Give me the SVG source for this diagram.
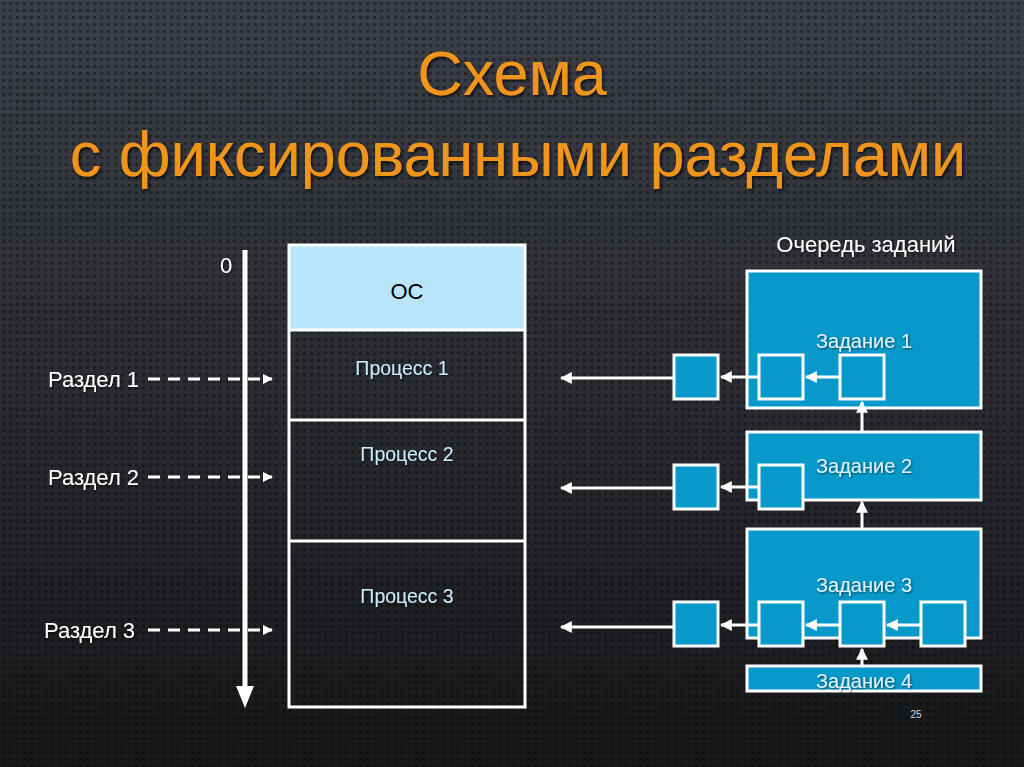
<svg xmlns="http://www.w3.org/2000/svg" width="1024" height="767" viewBox="0 0 1024 767">
<defs>
<linearGradient id="bg" x1="0" y1="0" x2="0" y2="1">
<stop offset="0" stop-color="#3b3f47"/>
<stop offset="0.5" stop-color="#2a2c31"/>
<stop offset="1" stop-color="#161719"/>
</linearGradient>
<pattern id="dots" width="7" height="7" patternUnits="userSpaceOnUse">
<circle cx="3.5" cy="3.5" r="1.8" fill="#000" fill-opacity="0.35"/>
</pattern>
<marker id="ah" viewBox="0 0 10 10" refX="9" refY="5" markerWidth="4" markerHeight="4" orient="auto" markerUnits="strokeWidth">
<path d="M0,0 L10,5 L0,10 z" fill="#fff"/>
</marker>
<marker id="ahs" viewBox="0 0 10 10" refX="9" refY="5" markerWidth="3.5" markerHeight="3.5" orient="auto" markerUnits="strokeWidth">
<path d="M0,0 L10,5 L0,10 z" fill="#fff"/>
</marker>
<filter id="sh" x="-10%" y="-10%" width="120%" height="130%">
<feDropShadow dx="1.5" dy="2" stdDeviation="1.5" flood-color="#000" flood-opacity="0.7"/>
</filter>
<filter id="tsh" x="-10%" y="-20%" width="120%" height="140%">
<feDropShadow dx="1" dy="1" stdDeviation="0.8" flood-color="#000" flood-opacity="0.6"/>
</filter>
</defs>
<style>
.title{font-family:"Liberation Sans",Arial,sans-serif;font-size:63px;fill:#f0951e;text-anchor:middle}
.lbl{font-family:"Liberation Sans",Arial,sans-serif;font-size:22px;fill:#fff}
.proc{font-family:"Liberation Sans",Arial,sans-serif;font-size:19.5px;fill:#c9ecfb;text-anchor:middle}
.job{font-family:"Liberation Sans",Arial,sans-serif;font-size:20px;fill:#dff3fc;text-anchor:middle}
.mem{fill:none;stroke:#fff;stroke-width:3}
.box{fill:#0899cb;stroke:#fff;stroke-width:3}
.sq{fill:#0899cb;stroke:#fff;stroke-width:3}
.ln{stroke:#fff;stroke-width:3;fill:none}
.dash{stroke:#fff;stroke-width:3;stroke-dasharray:12 8;fill:none}
</style>
<rect width="1024" height="767" fill="url(#bg)"/>
<rect width="1024" height="767" fill="url(#dots)"/>

<g id="title" filter="url(#sh)">
<text class="title" x="512" y="95">Схема</text>
<text class="title" x="518" y="176">с фиксированными разделами</text>
</g>

<g id="axis">
<line x1="245" y1="250" x2="245" y2="688" stroke="#fff" stroke-width="5"/>
<path d="M236,686 L254,686 L245,708 z" fill="#fff"/>
<text class="lbl" x="220" y="273" filter="url(#tsh)">0</text>
</g>

<g id="memory">
<rect x="289" y="245" width="236" height="85" fill="#b8e5fa"/>
<rect class="mem" x="289" y="245" width="236" height="462"/>
<line class="ln" x1="289" y1="330" x2="525" y2="330"/>
<line class="ln" x1="289" y1="420" x2="525" y2="420"/>
<line class="ln" x1="289" y1="541" x2="525" y2="541"/>
<text x="407" y="299" font-family="Liberation Sans,Arial,sans-serif" font-size="22" fill="#000" text-anchor="middle">ОС</text>
<g filter="url(#tsh)">
<text class="proc" x="402" y="375">Процесс 1</text>
<text class="proc" x="407" y="461">Процесс 2</text>
<text class="proc" x="407" y="603">Процесс 3</text>
</g>
</g>

<g id="partitions" filter="url(#tsh)">
<text class="lbl" x="48" y="387">Раздел 1</text>
<text class="lbl" x="48" y="485">Раздел 2</text>
<text class="lbl" x="44" y="638">Раздел 3</text>
</g>

<g id="queue-title">
<text x="866" y="252" font-family="Liberation Sans,Arial,sans-serif" font-size="22" fill="#fff" text-anchor="middle" filter="url(#tsh)">Очередь заданий</text>
</g>

<g id="job1"><rect class="box" x="747" y="271" width="234" height="137"/><text class="job" x="864" y="348" filter="url(#tsh)">Задание 1</text></g>
<g id="job2"><rect class="box" x="747" y="432" width="234" height="68"/><text class="job" x="864" y="473" filter="url(#tsh)">Задание 2</text></g>
<g id="job3"><rect class="box" x="747" y="529" width="234" height="109"/><text class="job" x="864" y="592" filter="url(#tsh)">Задание 3</text></g>
<g id="job4"><rect class="box" x="747" y="666" width="234" height="25"/><text class="job" x="864" y="688" filter="url(#tsh)">Задание 4</text></g>

<g id="connectors">
<line class="dash" x1="148" y1="379" x2="272" y2="379" marker-end="url(#ahs)"/>
<line class="dash" x1="148" y1="477" x2="272" y2="477" marker-end="url(#ahs)"/>
<line class="dash" x1="148" y1="630" x2="272" y2="630" marker-end="url(#ahs)"/>

<line class="ln" x1="673" y1="378" x2="561" y2="378" marker-end="url(#ah)"/>
<line class="ln" x1="673" y1="488" x2="561" y2="488" marker-end="url(#ah)"/>
<line class="ln" x1="673" y1="627" x2="561" y2="627" marker-end="url(#ah)"/>

<line class="ln" x1="758" y1="377" x2="721" y2="377" marker-end="url(#ah)"/>
<line class="ln" x1="839" y1="377" x2="806" y2="377" marker-end="url(#ah)"/>
<line class="ln" x1="758" y1="487" x2="721" y2="487" marker-end="url(#ah)"/>
<line class="ln" x1="758" y1="625" x2="721" y2="625" marker-end="url(#ah)"/>
<line class="ln" x1="839" y1="625" x2="806" y2="625" marker-end="url(#ah)"/>
<line class="ln" x1="920" y1="625" x2="887" y2="625" marker-end="url(#ah)"/>

<line class="ln" x1="862" y1="432" x2="862" y2="402" marker-end="url(#ah)"/>
<line class="ln" x1="862" y1="529" x2="862" y2="502" marker-end="url(#ah)"/>
<line class="ln" x1="862" y1="666" x2="862" y2="649" marker-end="url(#ah)"/>
</g>

<g id="squares">
<rect class="sq" x="674" y="355" width="44" height="44"/>
<rect class="sq" x="759" y="355" width="44" height="44"/>
<rect class="sq" x="840" y="355" width="44" height="44"/>
<rect class="sq" x="674" y="465" width="44" height="44"/>
<rect class="sq" x="759" y="465" width="44" height="44"/>
<rect class="sq" x="674" y="602" width="44" height="44"/>
<rect class="sq" x="759" y="602" width="44" height="44"/>
<rect class="sq" x="840" y="602" width="44" height="44"/>
<rect class="sq" x="921" y="602" width="44" height="44"/>
</g>

<g id="page">
<text x="916" y="718" font-family="Liberation Sans,Arial,sans-serif" font-size="10" fill="#ddd" text-anchor="middle">25</text>
</g>
</svg>
